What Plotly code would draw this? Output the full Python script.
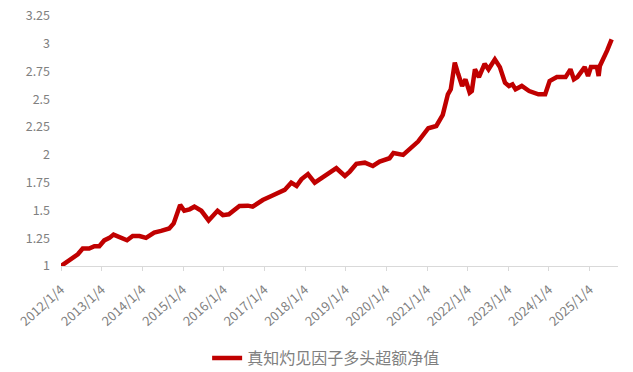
import plotly.graph_objects as go

dates = [
    "2012-01-04", "2012-04-01", "2012-06-03", "2012-07-17", "2012-09-13", "2012-10-30",
    "2012-12-13", "2013-01-26", "2013-03-14", "2013-04-20", "2013-06-25", "2013-08-19",
    "2013-10-09", "2013-12-09", "2014-02-06", "2014-04-20", "2014-06-21", "2014-09-02",
    "2014-10-12", "2014-11-11", "2014-12-09", "2015-01-15", "2015-03-04", "2015-04-16",
    "2015-06-18", "2015-08-22", "2015-09-27", "2015-11-10", "2015-12-28", "2016-02-20",
    "2016-05-25", "2016-08-08", "2016-09-20", "2016-12-20", "2017-03-08", "2017-05-05",
    "2017-07-05", "2017-09-02", "2017-10-20", "2017-12-02", "2018-01-30", "2018-04-01",
    "2018-05-30", "2018-08-15", "2018-10-12", "2018-12-28", "2019-02-10", "2019-04-10",
    "2019-06-25", "2019-09-05", "2019-11-05", "2020-02-02", "2020-03-08", "2020-06-03",
    "2020-08-05", "2020-10-15", "2021-01-15", "2021-03-28",
    "2021-05-25", "2021-07-10", "2021-08-05", "2021-09-10", "2021-10-10", "2021-11-15",
    "2021-12-15", "2022-01-22", "2022-02-10", "2022-03-10", "2022-04-15", "2022-06-05",
    "2022-07-10", "2022-09-05", "2022-10-20", "2022-12-05", "2023-01-10", "2023-02-10",
    "2023-03-10", "2023-05-05", "2023-07-10", "2023-10-01", "2023-12-01", "2024-01-10",
    "2024-03-15", "2024-06-01", "2024-07-15", "2024-08-15", "2024-09-15", "2024-11-20",
    "2024-12-20", "2025-01-15", "2025-03-10", "2025-03-25", "2025-04-05", "2025-05-05",
    "2025-06-10", "2025-07-20",
]
values = [
    1.00, 1.066, 1.105, 1.157, 1.157, 1.178,
    1.178, 1.23, 1.253, 1.283, 1.253, 1.232,
    1.27, 1.27, 1.253, 1.30, 1.316, 1.338,
    1.383, 1.458, 1.55, 1.497, 1.51, 1.534,
    1.497, 1.41, 1.45, 1.497, 1.458, 1.465,
    1.54, 1.543, 1.534, 1.594, 1.63, 1.655,
    1.685, 1.75, 1.72, 1.78, 1.827, 1.75,
    1.79, 1.85, 1.88, 1.81, 1.85, 1.92,
    1.93, 1.90, 1.94, 1.97, 2.017, 2.00,
    2.06, 2.12, 2.24, 2.26,
    2.36, 2.545, 2.59, 2.83, 2.73, 2.62,
    2.68, 2.56, 2.575, 2.77, 2.70, 2.82,
    2.77, 2.86, 2.79, 2.65, 2.62, 2.635,
    2.59, 2.62, 2.575, 2.545, 2.545, 2.665,
    2.70, 2.70, 2.77, 2.68, 2.70, 2.79,
    2.71, 2.79, 2.79, 2.71, 2.80, 2.86,
    2.94, 3.04,
]
series_name = "真知灼见因子多头超额净值"

x_tick_vals = [f"{y}-01-04" for y in range(2012, 2026)]
x_tick_text = [f"{y}/1/4" for y in range(2012, 2026)]
y_tick_vals = [1, 1.25, 1.5, 1.75, 2, 2.25, 2.5, 2.75, 3, 3.25]
y_tick_text = ["1", "1.25", "1.5", "1.75", "2", "2.25", "2.5", "2.75", "3", "3.25"]

gray = "#808080"
font_family = "Noto Sans CJK SC, Noto Sans, sans-serif"

fig = go.Figure()
fig.add_trace(go.Scatter(
    x=dates, y=values, mode="lines", name=series_name,
    line=dict(color="#C00000", width=4.5),
))

fig.update_layout(
    width=633, height=372,
    margin=dict(l=61, r=15, t=16, b=106, autoexpand=False),
    paper_bgcolor="white", plot_bgcolor="white",
    font=dict(family=font_family, color=gray, size=12),
    showlegend=True,
    legend=dict(orientation="h", x=0.476, xanchor="center", y=-0.368, yanchor="middle",
                font=dict(size=16, color=gray)),
    xaxis=dict(
        type="date", range=["2012-01-04", "2025-09-15"], automargin=False,
        tickmode="array", tickvals=x_tick_vals, ticktext=x_tick_text,
        tickangle=-42, ticklabelstandoff=6,
        showgrid=False, showline=True, linecolor="#d9d9d9", linewidth=1,
        ticks="outside", ticklen=4, tickcolor="#d9d9d9", zeroline=False,
        tickfont=dict(size=13, color=gray),
    ),
    yaxis=dict(
        range=[1, 3.25], tickmode="array", tickvals=y_tick_vals, ticktext=y_tick_text,
        automargin=False, ticklabelstandoff=10,
        showgrid=False, showline=False, zeroline=False, ticks="",
        tickfont=dict(size=12.5, color=gray),
    ),
)

fig.write_html("out.html")
